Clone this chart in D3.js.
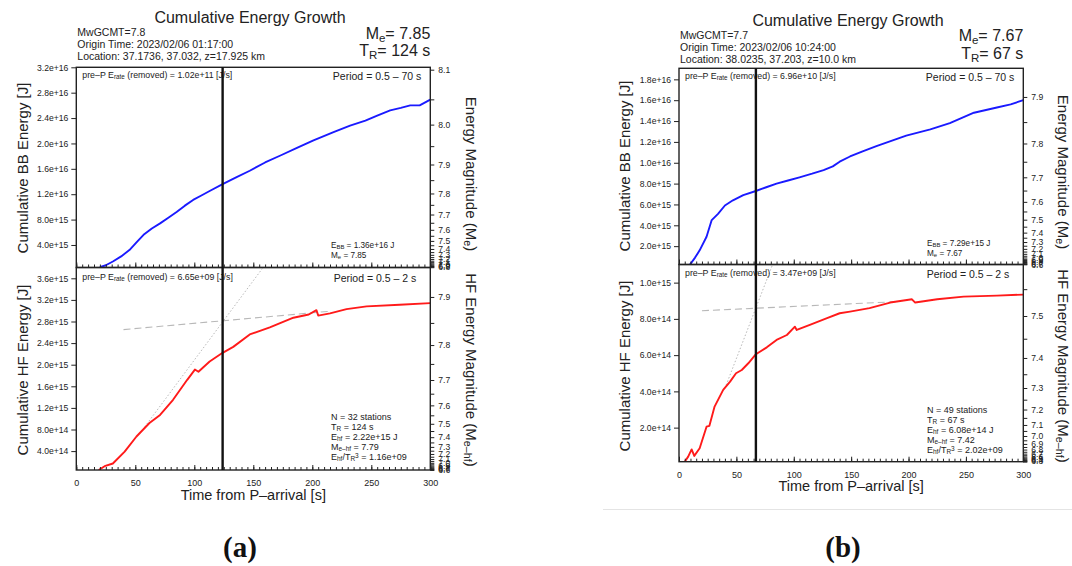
<!DOCTYPE html>
<html>
<head>
<meta charset="utf-8">
<script src="https://cdn.jsdelivr.net/npm/d3@7"></script>
<style>
  body { margin: 0; background: #fff; }
  svg { display: block; }
  text { font-family: "Liberation Sans", Arial, sans-serif; fill: #222; }
  text.tag { font-family: "Liberation Serif", "Times New Roman", serif; font-weight: bold; fill: #111; }
</style>
</head>
<body>
<svg id="chart" width="1072" height="566"></svg>
<script>
// ---- data (energies in J, time in s) ----
const timeTicks = [0, 50, 100, 150, 200, 250, 300];

// (a) Mw 7.8
const bbTimeA   = [20, 25, 31, 38, 45, 51, 57, 64, 71, 78, 85, 92, 99, 106, 113, 124, 135, 147, 160, 173, 187, 201, 218, 232, 245, 255, 266, 275, 283, 291, 300];
const bbEnergyA = [0.5e15, 0.8e15, 1.4e15, 2.2e15, 3.2e15, 4.4e15, 5.6e15, 6.6e15, 7.4e15, 8.3e15, 9.2e15, 10.2e15, 11.1e15, 11.8e15, 12.5e15, 13.6e15, 14.6e15, 15.7e15, 17.0e15, 18.1e15, 19.3e15, 20.5e15, 21.8e15, 22.8e15, 23.6e15, 24.4e15, 25.2e15, 25.6e15, 26.0e15, 26.0e15, 26.9e15];
const hfTimeA   = [19, 24, 31, 41, 51, 62, 71, 82, 94, 100.5, 103.5, 113, 124, 133, 147, 164, 184, 197, 203.5, 205, 215, 229, 246, 274, 300];
const hfEnergyA = [0.05e15, 0.12e15, 0.17e15, 0.39e15, 0.67e15, 0.92e15, 1.07e15, 1.35e15, 1.72e15, 1.91e15, 1.87e15, 2.06e15, 2.22e15, 2.33e15, 2.56e15, 2.69e15, 2.87e15, 2.93e15, 3.01e15, 2.91e15, 2.95e15, 3.03e15, 3.08e15, 3.11e15, 3.14e15];
const fitFlatA  = [[40, 2.65e15], [215, 2.99e15]];
const fitRiseA  = [[58, 0.85e15], [160, 3.85e15]];
const bbTicksA  = [4e15, 8e15, 12e15, 16e15, 20e15, 24e15, 28e15, 32e15];
const hfTicksA  = [4e14, 8e14, 12e14, 16e14, 20e14, 24e14, 28e14, 32e14, 36e14];

// (b) Mw 7.7
const bbTimeB   = [9.6, 14, 18, 24, 28.5, 34, 40, 47, 56, 67, 76, 85, 95, 105, 116, 126, 134, 140, 149, 160, 172, 185, 198, 219, 236, 257, 277, 289, 300];
const bbEnergyB = [0.24e15, 0.9e15, 1.6e15, 2.9e15, 4.5e15, 5.1e15, 5.9e15, 6.4e15, 6.9e15, 7.29e15, 7.65e15, 8.0e15, 8.3e15, 8.6e15, 8.95e15, 9.3e15, 9.65e15, 10.1e15, 10.6e15, 11.1e15, 11.6e15, 12.1e15, 12.6e15, 13.2e15, 13.8e15, 14.8e15, 15.3e15, 15.6e15, 16.0e15];
const hfTimeB   = [5, 8, 11, 13.3, 18, 24, 26.5, 31, 38.5, 44.5, 49.7, 54.7, 60.4, 67, 76.5, 85, 94, 101, 102.6, 114, 129, 140, 149, 166, 184, 203, 205.8, 225, 248, 277, 300];
const hfEnergyB = [0.12e14, 0.4e14, 0.8e14, 0.44e14, 0.86e14, 2.05e14, 2.1e14, 3.16e14, 4.08e14, 4.54e14, 5.0e14, 5.18e14, 5.55e14, 6.05e14, 6.43e14, 6.84e14, 7.11e14, 7.57e14, 7.39e14, 7.67e14, 8.04e14, 8.31e14, 8.4e14, 8.59e14, 8.9e14, 9.08e14, 8.9e14, 9.08e14, 9.23e14, 9.28e14, 9.34e14];
const fitFlatB  = [[20, 8.45e14], [190, 8.95e14]];
const fitRiseB  = [[40, 4.17e14], [84, 11.4e14]];
const bbTicksB  = [2e15, 4e15, 6e15, 8e15, 10e15, 12e15, 14e15, 16e15, 18e15];
const hfTicksB  = [2e14, 4e14, 6e14, 8e14, 10e14];

const svg = d3.select('#chart');
let clipCount = 0;

// text with sub/superscript pieces: [["E", null], ["BB", "sub"], ...]
function rich(sel, parts, size) {
  parts.forEach(([t, kind]) => {
    const ts = sel.append('tspan').text(t);
    if (kind === 'sub') ts.attr('baseline-shift', '-22%').attr('font-size', size * 0.72);
    if (kind === 'sup') ts.attr('baseline-shift', '38%').attr('font-size', size * 0.72);
  });
  return sel;
}

function textAt(x, y, size, parts, anchor = 'start', extra = {}) {
  const t = svg.append('text').attr('x', x).attr('y', y)
    .attr('font-size', size).attr('text-anchor', anchor);
  Object.entries(extra).forEach(([k, v]) => t.attr(k, v));
  return rich(t, typeof parts === 'string' ? [[parts, null]] : parts, size);
}

function styleAxis(g, size) {
  g.select('.domain').remove();
  g.selectAll('line').attr('stroke', '#222');
  g.selectAll('text').attr('font-size', size).attr('fill', '#222');
}

function drawPanel(p) {
  const x = d3.scaleLinear().domain([0, 300]).range([p.x0, p.x1]);
  const y = d3.scaleLinear().domain(p.yDomain).range([p.y1, p.y0]);
  const g = svg.append('g');
  const id = 'clip' + (clipCount++);
  g.append('clipPath').attr('id', id).append('rect')
    .attr('x', p.x0).attr('y', p.y0).attr('width', p.x1 - p.x0).attr('height', p.y1 - p.y0);
  const inner = g.append('g').attr('clip-path', `url(#${id})`);
  const line = d3.line().x(d => x(d[0])).y(d => y(d[1]));

  if (p.fitFlat) {
    inner.append('path').datum(p.fitFlat).attr('d', line)
      .attr('fill', 'none').attr('stroke', '#b8b8b8').attr('stroke-width', 1.1)
      .attr('stroke-dasharray', '7,4');
    inner.append('path').datum(p.fitRise).attr('d', line)
      .attr('fill', 'none').attr('stroke', '#b0b0b0').attr('stroke-width', 0.9)
      .attr('stroke-dasharray', '1.5,2');
  }
  inner.append('path').datum(d3.zip(p.time, p.energy)).attr('d', line)
    .attr('fill', 'none').attr('stroke', p.color).attr('stroke-width', 1.9)
    .attr('stroke-linejoin', 'round');

  // inner ticks on the bottom edge
  const minor = g.append('g').attr('transform', `translate(0,${p.y1})`)
    .call(d3.axisBottom(x).tickValues(d3.range(0, 301, 5)).tickSize(-3).tickFormat(''));
  styleAxis(minor, 9);
  const major = g.append('g').attr('transform', `translate(0,${p.y1})`)
    .call(d3.axisBottom(x).tickValues(timeTicks).tickSize(-5).tickFormat(''));
  styleAxis(major, 9);
  if (p.xLabels) {
    const lab = g.append('g').attr('transform', `translate(0,${p.y1})`)
      .call(d3.axisBottom(x).tickValues(timeTicks).tickSize(0).tickPadding(p.xPad));
    styleAxis(lab, 9);
  }

  // left energy axis
  const left = g.append('g').attr('transform', `translate(${p.x0},0)`)
    .call(d3.axisLeft(y).tickValues(p.yTicks).tickSize(5).tickPadding(3)
      .tickFormat(d => d.toExponential(1)));
  styleAxis(left, 8.6);

  // right magnitude axis: M = a*log10(E) + b
  const mLo = p.mag.a * Math.log10(p.yDomain[0]) + p.mag.b;
  const mHi = p.mag.a * Math.log10(p.yDomain[1]) + p.mag.b;
  const mags = d3.range(Math.ceil(mLo * 20), Math.floor(mHi * 20) + 1).map(k => k / 20);
  const energyOf = m => Math.pow(10, (m - p.mag.b) / p.mag.a);
  const right = g.append('g').attr('transform', `translate(${p.x1},0)`)
    .call(d3.axisRight(y).tickValues(mags.map(energyOf)).tickSize(4).tickPadding(4)
      .tickFormat((e, i) => (Math.round(mags[i] * 20) % 2 === 0 ? mags[i].toFixed(1) : '')));
  styleAxis(right, 8.6);

  g.append('rect').attr('x', p.x0).attr('y', p.y0)
    .attr('width', p.x1 - p.x0).attr('height', p.y1 - p.y0)
    .attr('fill', 'none').attr('stroke', '#222').attr('stroke-width', 1.4);
  return { x, y };
}

function drawFigure(f) {
  const top = drawPanel({
    x0: f.x0, x1: f.x1, y0: f.yTop, y1: f.yMid, yDomain: f.bbDomain, yTicks: f.bbTicks,
    time: f.bbTime, energy: f.bbEnergy, color: '#1a1aff', mag: f.bbMag
  });
  drawPanel({
    x0: f.x0, x1: f.x1, y0: f.yMid, y1: f.yBot, yDomain: f.hfDomain, yTicks: f.hfTicks,
    time: f.hfTime, energy: f.hfEnergy, color: '#ff1a1a', mag: f.hfMag,
    fitFlat: f.fitFlat, fitRise: f.fitRise, xLabels: true, xPad: f.xPad
  });

  const cx = (f.x0 + f.x1) / 2;
  textAt(f.titleX, f.titleY, 16, 'Cumulative Energy Growth', 'middle');
  f.info.forEach((s, i) => textAt(f.x0 + 1, f.infoY + i * 12.2, 10.5, s));
  textAt(f.x1, f.meY, 16, [['M', null], ['e', 'sub'], ['= ' + f.me, null]], 'end');
  textAt(f.x1, f.meY + 17.5, 16, [['T', null], ['R', 'sub'], ['= ' + f.tr + ' s', null]], 'end');

  // in-panel notes
  textAt(f.x0 + 6, f.yTop + 11, 8.8, [['pre\u2013P E', null], ['rate', 'sub'], [' (removed) = ' + f.prePbb + ' [J/s]', null]]);
  textAt(f.x0 + 6, f.yMid + f.noteDy, 8.8, [['pre\u2013P E', null], ['rate', 'sub'], [' (removed) = ' + f.prePhf + ' [J/s]', null]]);
  textAt(f.x1 - 9, f.yTop + 13, 10.5, 'Period = 0.5 \u2013 70 s', 'end');
  textAt(f.x1 - 14, f.yMid + f.noteDy + 2, 10.5, 'Period = 0.5 \u2013 2 s', 'end');

  const nx = f.noteX;
  textAt(nx, f.ebbY, 8.2, [['E', null], ['BB', 'sub'], [' = ' + f.ebb + ' J', null]]);
  textAt(nx, f.ebbY + 10, 8.2, [['M', null], ['e', 'sub'], [' = ' + f.me, null]]);
  const hfNotes = [
    [['N = ' + f.n + ' stations', null]],
    [['T', null], ['R', 'sub'], [' = ' + f.tr + '  s', null]],
    [['E', null], ['hf', 'sub'], [' = ' + f.ehf + ' J', null]],
    [['M', null], ['e\u2013hf', 'sub'], [' = ' + f.mehf, null]],
    [['E', null], ['hf', 'sub'], ['/T', null], ['R', 'sub'], ['3', 'sup'], [' =  ' + f.ratio, null]]
  ];
  hfNotes.forEach((parts, i) => textAt(nx, f.nY + i * 10.1, 9, parts));

  // rupture duration marker
  svg.append('line').attr('x1', top.x(f.trValue)).attr('x2', top.x(f.trValue))
    .attr('y1', f.yTop).attr('y2', f.yBot).attr('stroke', '#111').attr('stroke-width', 2.4);

  // axis titles
  textAt(0, 0, 15, 'Cumulative BB Energy [J]', 'middle', { transform: `translate(${f.leftX},${f.bbLabelY}) rotate(-90)` });
  textAt(0, 0, 15, 'Cumulative HF Energy [J]', 'middle', { transform: `translate(${f.leftX},${f.hfLabelY}) rotate(-90)` });
  textAt(0, 0, 15, [['Energy Magnitude (M', null], ['e', 'sub'], [')', null]], 'middle',
    { transform: `translate(${f.rightX},${f.bbLabelY + 6}) rotate(90)` });
  textAt(0, 0, 15, [['HF Energy Magnitude (M', null], ['e\u2013hf', 'sub'], [')', null]], 'middle',
    { transform: `translate(${f.rightX},${f.hfLabelY}) rotate(90)` });
  textAt(cx, f.xTitleY, 14.5, 'Time from P\u2013arrival [s]', 'middle');

  textAt(f.tagX, 557, 29, f.tag, 'middle', { class: 'tag' });
}

// frame of the second screenshot
svg.append('line').attr('x1', 603).attr('x2', 1072).attr('y1', 509.5).attr('y2', 509.5)
  .attr('stroke', '#e4e4e4').attr('stroke-width', 1);

drawFigure({
  tag: '(a)', tagX: 240,
  x0: 76.3, x1: 430.3, yTop: 67.3, yMid: 267.5, yBot: 470,
  bbDomain: [0.45e15, 3.2e16], hfDomain: [0.05e15, 3.8e15],
  bbTicks: bbTicksA, hfTicks: hfTicksA,
  bbTime: bbTimeA, bbEnergy: bbEnergyA, hfTime: hfTimeA, hfEnergy: hfEnergyA,
  fitFlat: fitFlatA, fitRise: fitRiseA,
  bbMag: { a: 0.72, b: -3.78 }, hfMag: { a: 0.72, b: -3.269 },
  titleX: 250, titleY: 22.5, info: ['MwGCMT=7.8', 'Origin Time: 2023/02/06 01:17:00', 'Location: 37.1736, 37.032, z=17.925 km'],
  infoY: 36, meY: 38.5, me: '7.85', tr: '124', trValue: 124,
  prePbb: '1.02e+11', prePhf: '6.65e+09', noteDy: 12,
  noteX: 331, ebbY: 248, ebb: '1.36e+16', nY: 420, n: 32, ehf: '2.22e+15', mehf: '7.79', ratio: '1.16e+09',
  leftX: 28, rightX: 466, bbLabelY: 168, hfLabelY: 370, xPad: 10, xTitleY: 500
});

drawFigure({
  tag: '(b)', tagX: 843,
  x0: 679, x1: 1023.3, yTop: 68.3, yMid: 264.5, yBot: 461.7,
  bbDomain: [0.24e15, 1.906e16], hfDomain: [0.12e14, 1.1e15],
  bbTicks: bbTicksB, hfTicks: hfTicksB,
  bbTime: bbTimeB, bbEnergy: bbEnergyB, hfTime: hfTimeB, hfEnergy: hfEnergyB,
  fitFlat: fitFlatB, fitRise: fitRiseB,
  bbMag: { a: 0.72, b: -3.773 }, hfMag: { a: 0.69, b: -2.789 },
  titleX: 848, titleY: 26, info: ['MwGCMT=7.7', 'Origin Time: 2023/02/06 10:24:00', 'Location: 38.0235, 37.203, z=10.0 km'],
  infoY: 38.5, meY: 41, me: '7.67', tr: '67', trValue: 67,
  prePbb: '6.96e+10', prePhf: '3.47e+09', noteDy: 11,
  noteX: 927, ebbY: 245.5, ebb: '7.29e+15', nY: 412.5, n: 49, ehf: '6.08e+14', mehf: '7.42', ratio: '2.02e+09',
  leftX: 630, rightX: 1058, bbLabelY: 166, hfLabelY: 366, xPad: 9.5, xTitleY: 491
});
</script>
</body>
</html>
